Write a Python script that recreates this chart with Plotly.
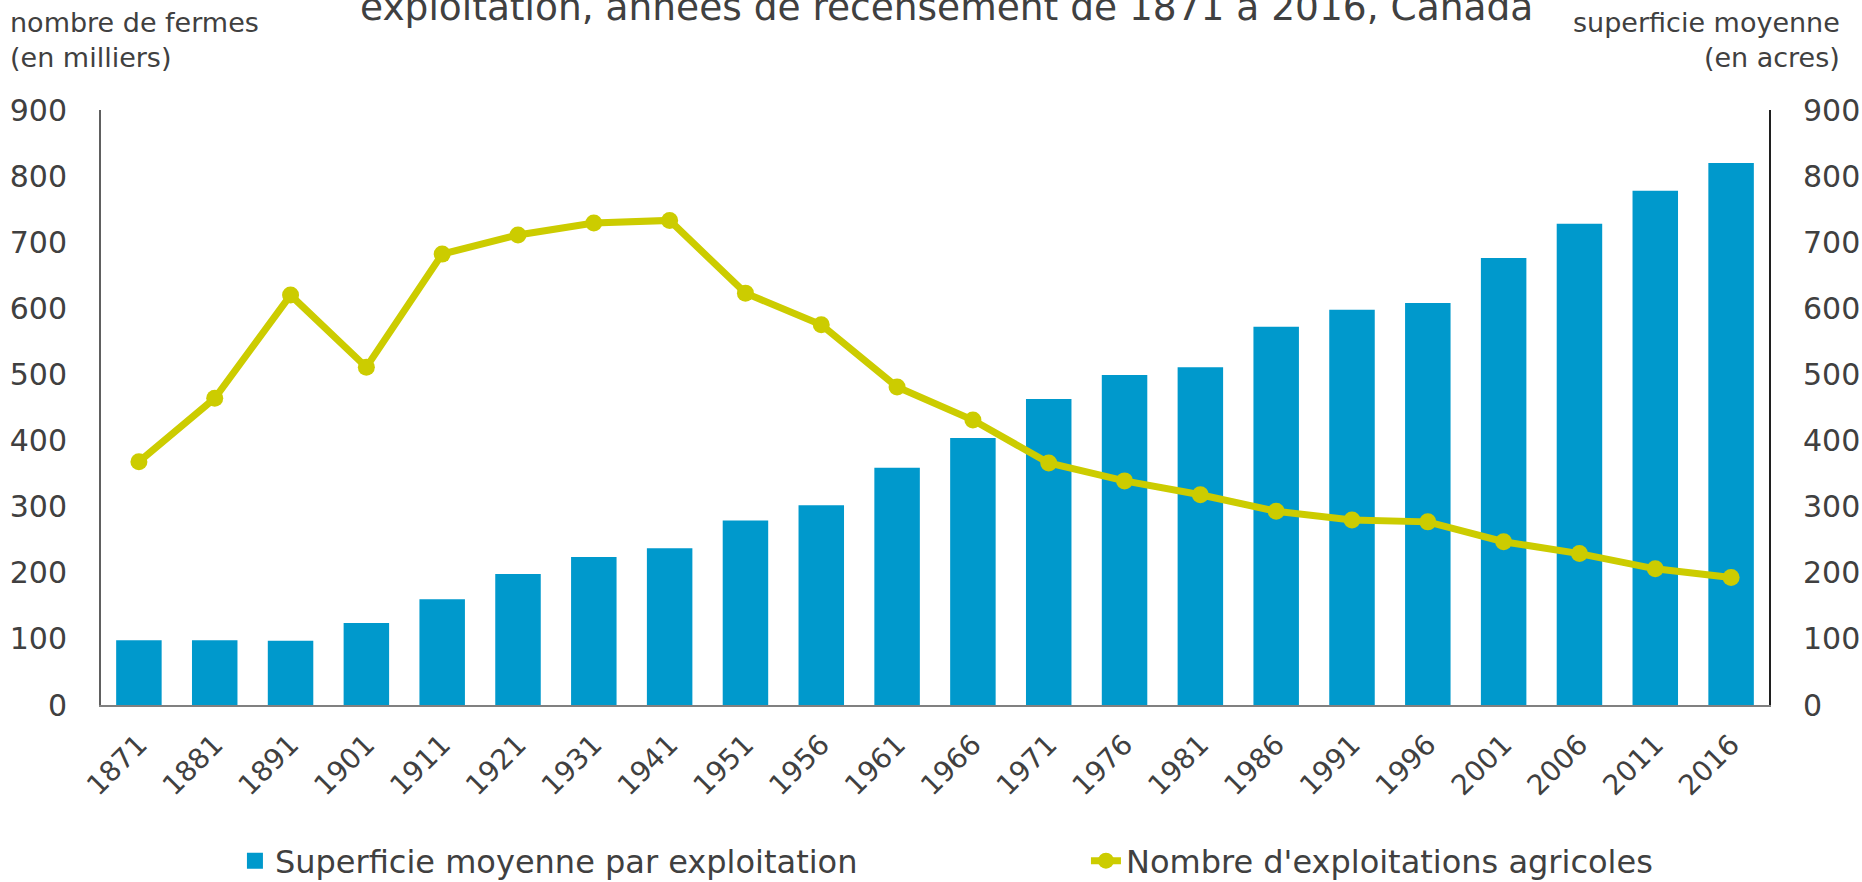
import plotly.graph_objects as go

# recensements
annees = ['1871', '1881', '1891', '1901', '1911', '1921', '1931', '1941', '1951', '1956', '1961',
          '1966', '1971', '1976', '1981', '1986', '1991', '1996', '2001', '2006', '2011', '2016']

# superficie moyenne par exploitation (acres)
superficie = [98, 98, 97, 124, 160, 198, 224, 237, 279, 302, 359,
              404, 463, 499, 511, 572, 598, 608, 676, 728, 778, 820]

# nombre d'exploitations (milliers)
fermes = [368, 464, 620, 511, 682, 711, 729, 733, 623, 575, 481,
          431, 366, 339, 318, 293, 280, 277, 247, 229, 206, 193]

y_ticks = [0, 100, 200, 300, 400, 500, 600, 700, 800, 900]

bleu = '#0099cc'
jaune = '#cccc00'
txt = '#404040'
font = 'DejaVu Sans'

fig = go.Figure()

fig.add_trace(go.Bar(
    x=annees, y=superficie, name='Superficie moyenne par exploitation',
    marker=dict(color=bleu, line=dict(width=0)),
    yaxis='y', showlegend=False,
))
# legend entry only, bigger square than the default bar symbol
fig.add_trace(go.Scatter(
    x=[annees[0]], y=[None], name='Superficie moyenne par exploitation',
    mode='markers', marker=dict(symbol='square', color=bleu, size=22),
    yaxis='y', legend='legend', hoverinfo='skip',
))

fig.add_trace(go.Scatter(
    x=annees, y=fermes, name="Nombre d'exploitations agricoles",
    mode='lines+markers',
    line=dict(color=jaune, width=7),
    marker=dict(color=jaune, size=17),
    yaxis='y2', legend='legend2',
))

leg = dict(orientation='h', xanchor='left', y=-0.262, yanchor='middle',
           font=dict(size=32, color=txt), itemsizing='trace', bgcolor='rgba(0,0,0,0)')

fig.update_layout(
    width=1862, height=882,
    margin=dict(l=101, r=93, t=110, b=177, autoexpand=False),
    paper_bgcolor='white', plot_bgcolor='white',
    font=dict(family=font, color=txt, size=30),
    bargap=0.4,
    showlegend=True,
    legend=dict(leg, x=0.0803),
    legend2=dict(leg, x=0.5905),
    xaxis=dict(
        type='category', categoryorder='array', categoryarray=annees,
        range=[-0.5, len(annees) - 0.5],
        tickangle=-45, showgrid=False, automargin=False,
        showline=True, linecolor='#808080', linewidth=2,
        ticks='outside', ticklen=10, tickcolor='rgba(0,0,0,0)',
        tickfont=dict(size=28, color=txt),
    ),
    yaxis=dict(
        side='right', range=[0, 900], tickvals=y_ticks, showgrid=False, automargin=False,
        showline=True, linecolor='#202020', linewidth=2,
        ticks='outside', ticklen=26, tickcolor='rgba(0,0,0,0)',
        tickfont=dict(size=30, color=txt), zeroline=False,
    ),
    yaxis2=dict(
        overlaying='y', side='left', range=[0, 900], tickvals=y_ticks, showgrid=False,
        automargin=False,
        showline=True, linecolor='#606060', linewidth=2,
        ticks='outside', ticklen=26, tickcolor='rgba(0,0,0,0)',
        tickfont=dict(size=30, color=txt), zeroline=False,
    ),
    annotations=[
        dict(text='exploitation, années de recensement de 1871 à 2016, Canada',
             xref='paper', yref='paper', x=0.507, y=1.173, xanchor='center', yanchor='middle',
             showarrow=False, font=dict(size=37.5, color=txt)),
        dict(text='nombre de fermes<br>(en milliers)', xref='paper', yref='paper',
             x=-0.056, y=1.118, xanchor='left', yanchor='middle', align='left',
             showarrow=False, font=dict(size=27, color=txt)),
        dict(text='superficie moyenne<br>(en acres)', xref='paper', yref='paper',
             x=1.044, y=1.118, xanchor='right', yanchor='middle', align='right',
             showarrow=False, font=dict(size=27, color=txt)),
    ],
)

# the page body has a default 8px margin; drop it so the figure sits at the corner
fig.write_html('out.html', config={'displayModeBar': False},
               post_script="document.body.style.margin='0px';")
